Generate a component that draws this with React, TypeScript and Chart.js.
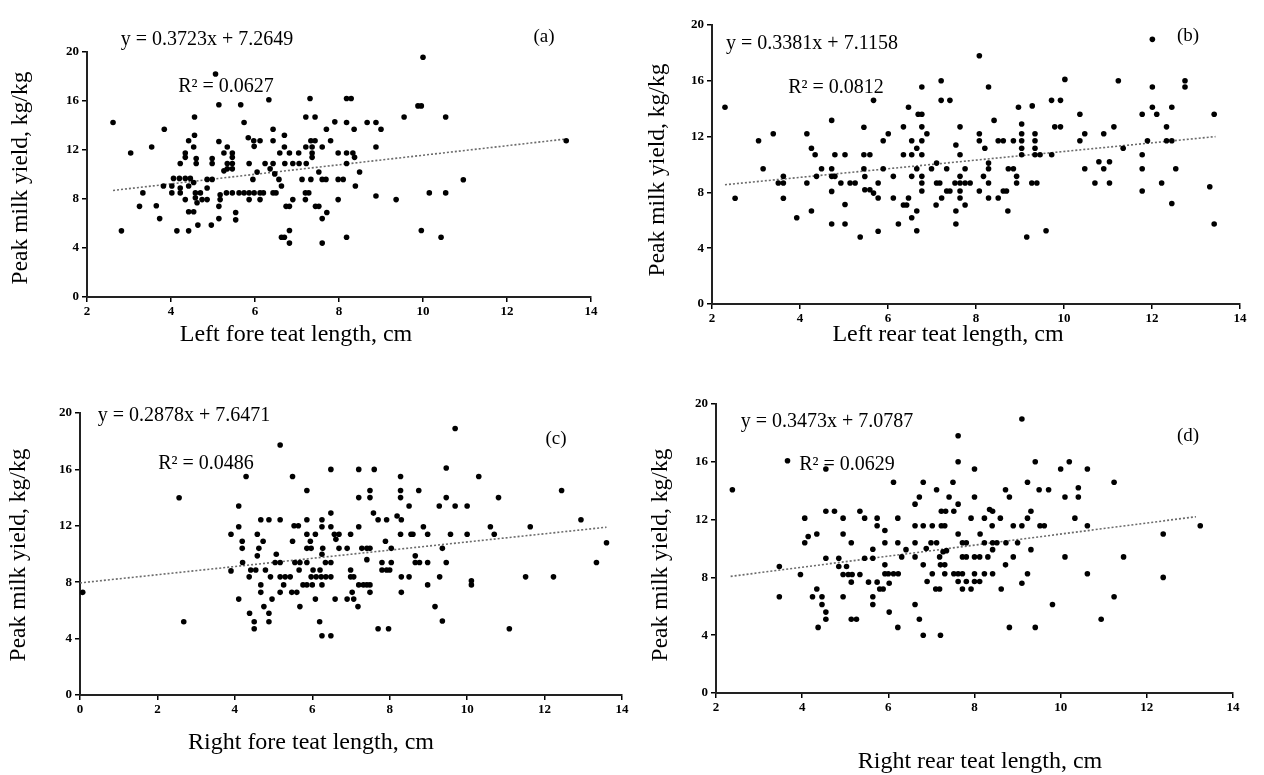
import React, { useEffect, useRef } from "react";
import { Chart, registerables } from "chart.js";
Chart.register(...registerables);

// ---------- Panel (a): Left fore teat length ----------
const aX = [5.06,5.14,5.66,2.62,4.56,5.74,3.84,4.56,4.42,5.14,5.84,5.98,3.54,4.54,5.34,3.04,4.34,4.34,5.26,5.46,5.46,5.46,5.46,4.6,4.6,4.98,4.98,4.22,5.34,5.34,5.86,5.26,4.06,4.2,4.34,4.46,4.54,4.86,4.98,3.82,3.33,4.02,4.02,4.22,4.22,4.42,4.58,4.7,4.58,4.62,4.74,4.86,4.86,5.17,5.17,5.32,5.46,5.62,5.74,5.86,5.98,5.86,4.34,5.14,3.25,3.65,4.42,4.54,5.54,5.54,3.73,5.14,2.82,4.14,4.42,4.64,4.96,
  10.0,6.33,7.31,8.18,8.29,9.88,9.96,7.21,7.43,9.55,6.43,7.9,7.7,8.18,8.36,8.67,8.88,9.0,6.7,5.97,6.12,6.43,7.33,7.43,7.8,6.7,6.59,6.82,7.04,7.21,7.36,7.6,7.36,7.36,8.88,7.98,8.18,8.33,8.37,6.05,6.24,6.43,6.71,6.9,7.05,7.22,6.36,6.47,6.57,5.95,6.63,7.12,7.33,7.52,7.6,7.69,7.98,8.1,8.18,8.49,8.39,6.12,6.2,6.12,6.43,6.5,6.74,6.82,6.9,7.2,7.28,7.2,7.44,7.52,7.71,7.6,7.98,8.88,9.36,6.63,6.7,6.82,6.82,7.6,8.18,9.96,
  10.54,13.41,10.96,10.15,10.54,10.43];
const aY = [18.2,15.7,15.7,14.25,14.7,14.25,13.7,13.2,12.75,12.7,13.0,12.3,12.25,12.25,12.25,11.75,11.75,11.4,11.75,11.75,11.4,10.9,10.46,11.3,10.9,11.3,10.9,10.9,10.9,10.46,10.9,10.3,9.68,9.68,9.68,9.68,9.35,9.6,9.6,9.06,8.5,9.06,8.5,8.9,8.5,9.06,8.5,8.5,8.1,7.7,7.95,8.9,7.95,8.35,7.95,8.5,8.5,8.5,8.5,8.5,8.5,7.95,7.95,7.4,7.4,7.45,6.96,6.96,6.9,6.3,6.4,6.4,5.4,5.4,5.4,5.87,5.87,
  19.57,16.1,16.2,16.2,16.2,15.6,15.6,14.7,14.7,14.7,13.7,14.3,13.7,14.25,13.7,14.25,14.25,13.7,13.2,12.75,12.75,12.75,12.75,12.75,12.75,12.25,11.75,11.75,11.75,12.25,12.25,12.25,11.75,11.4,12.25,11.75,11.75,11.75,11.4,10.2,10.9,10.9,10.9,10.9,10.9,10.9,10.46,10.05,9.6,9.6,9.06,9.6,9.6,10.2,9.6,9.6,9.6,9.6,10.9,10.2,9.06,8.5,8.5,7.95,8.5,8.5,7.4,7.4,7.95,8.5,8.5,7.95,7.4,7.4,6.9,6.4,7.95,8.25,7.95,4.88,4.88,5.43,4.4,4.4,4.88,5.43,
  14.7,12.75,9.57,8.5,8.5,4.88];
const aTrendX = [2.62, 13.41];
const aTrendY = [8.7, 12.9];

// ---------- Panel (b): Left rear teat length ----------
const bX = [2.295,2.525,3.058,3.392,4.156,3.162,3.622,3.507,3.622,3.622,3.926,4.156,4.26,4.72,4.26,4.344,4.49,4.375,4.72,4.72,4.793,4.793,5.023,4.72,4.929,5.138,5.253,5.023,4.72,5.023,5.368,5.671,5.452,5.452,5.588,5.452,5.473,5.473,5.588,5.671,5.776,5.776,5.776,
  8.076,6.769,7.208,8.285,7.208,7.407,6.466,6.686,6.769,8.411,8.965,9.278,9.717,6.351,6.769,7.637,9.038,9.79,6.006,5.891,6.539,6.769,6.884,6.654,6.769,7.543,8.076,8.076,8.201,8.505,8.62,8.85,9.038,9.038,9.341,9.341,9.341,9.341,9.456,9.038,9.038,6.351,6.539,7.637,5.891,6.654,6.989,7.104,7.334,6.769,6.769,6.769,7.752,7.637,7.522,7.637,7.752,7.867,8.285,8.285,8.17,8.285,8.735,8.85,8.923,8.923,9.268,9.383,6.121,6.539,6.121,7.104,7.177,7.334,7.407,7.637,7.637,7.752,8.076,8.285,8.505,8.62,8.693,7.219,7.093,6.466,6.351,6.424,6.654,6.539,7.543,8.724,6.236,6.654,7.543,9.153,9.592,
  12.008,10.02,11.235,12.008,12.75,12.75,9.92,10.361,11.777,12.108,12.008,12.45,13.413,9.92,10.472,10.903,11.134,10.361,12.33,11.897,12.33,12.45,11.345,9.72,11.777,10.793,11.034,10.903,10.472,10.703,11.034,11.777,12.54,12.219,11.777,13.313,12.45,13.413];
const bY = [14.1,7.58,11.7,12.2,12.2,9.7,9.15,8.67,8.67,7.58,6.18,8.67,6.67,13.16,11.17,10.7,9.7,9.15,9.7,9.15,9.15,10.7,10.7,8.07,8.67,8.67,8.67,7.13,5.73,5.73,4.8,14.6,12.67,9.7,10.7,10.7,9.14,8.19,8.19,7.95,8.67,7.6,5.22,
  17.8,15.56,16.0,15.56,14.6,14.6,14.1,13.6,13.6,13.16,14.1,14.2,14.6,12.7,12.7,12.7,12.9,12.7,12.2,11.7,11.7,11.7,12.2,11.17,10.7,11.4,12.2,11.7,11.17,11.7,11.7,11.7,12.2,11.7,12.2,11.7,11.17,10.7,10.7,11.17,10.7,10.7,10.7,10.7,9.7,9.7,9.7,10.1,9.7,9.15,8.67,8.1,9.7,9.15,8.67,8.67,8.67,8.67,10.1,9.7,9.15,8.67,9.7,9.7,9.15,8.67,8.67,8.67,9.15,9.15,7.6,8.67,8.67,8.1,8.1,8.1,7.6,7.1,8.1,7.6,7.6,8.1,8.1,7.6,7.1,7.6,7.1,7.1,6.67,6.18,6.67,6.67,5.73,5.25,5.73,4.8,5.25,
  18.97,16.1,16.0,15.56,16.0,15.56,14.6,13.6,13.6,13.6,14.1,14.1,13.6,12.7,12.2,12.2,12.7,11.7,12.7,11.7,11.7,11.7,11.17,10.7,10.7,10.2,10.2,9.7,9.7,8.67,8.67,9.7,9.7,8.67,8.1,8.4,7.2,5.73];
const bTrendX = [2.295, 13.443];
const bTrendY = [8.55, 12.0];

// ---------- Panel (c): Right fore teat length ----------
const cX = [0.07,2.56,2.68,4.29,4.1,4.1,3.9,4.19,4.19,4.2,3.9,4.1,
  5.17,5.49,6.48,7.2,7.6,8.28,5.86,7.2,7.49,7.49,8.28,8.28,8.5,6.48,4.67,4.88,5.17,5.86,6.25,6.25,5.53,5.64,7.58,7.7,7.92,8.19,8.3,6.48,6.57,6.69,6.61,6.99,7.2,5.86,6.08,4.58,8.28,8.55,4.73,4.62,4.58,5.49,5.95,5.86,5.97,6.27,6.69,6.9,7.28,7.41,7.49,7.41,7.89,8.04,5.07,7.8,8.04,6.25,6.34,6.48,5.04,5.17,5.55,5.68,5.86,4.41,4.37,4.54,4.79,5.66,6.02,6.2,6.99,6.99,7.07,4.92,5.17,5.3,5.43,5.97,6.1,6.23,6.35,6.48,7.8,7.92,8.0,8.3,8.5,7.2,7.32,7.41,7.49,7.49,4.67,4.67,5.26,5.47,5.6,5.86,5.76,6.0,6.25,5.17,4.96,6.08,6.59,6.9,7.07,7.03,7.18,5.68,8.3,4.75,4.88,4.88,4.38,4.5,4.5,6.19,6.25,6.48,7.7,7.97,
  9.69,9.46,10.3,8.75,9.46,12.44,9.28,9.69,10.0,10.81,8.87,10.6,10.7,11.63,12.94,8.6,8.98,9.57,10.0,9.36,8.66,8.66,8.77,8.98,9.46,13.34,8.98,9.29,10.11,10.11,11.51,12.23,9.17,9.36,11.09,13.6];
const cY = [7.28,13.99,5.2,15.5,13.4,11.93,11.4,10.9,10.4,9.4,8.8,6.8,
  17.73,15.5,16.0,16.0,16.0,15.5,14.5,14.0,14.5,14.0,14.5,14.0,13.4,12.9,12.43,12.43,12.43,12.43,12.43,11.93,12.0,12.0,12.9,12.43,12.43,12.7,12.43,11.93,11.4,11.4,11.04,11.4,11.93,11.4,11.4,11.4,11.4,11.4,10.9,10.4,9.87,10.9,10.9,10.4,10.4,10.4,10.4,10.4,10.4,10.4,10.4,9.6,10.9,10.4,9.98,9.4,9.4,9.98,9.4,9.4,9.4,9.4,9.4,9.4,9.4,8.86,8.38,8.86,8.86,8.86,8.86,8.86,8.86,8.38,8.38,8.38,8.38,8.38,8.38,8.38,8.38,8.38,8.38,8.38,8.86,8.86,8.86,8.38,8.38,7.81,7.81,7.81,7.81,7.28,7.81,7.28,7.81,7.28,7.28,7.81,7.81,7.81,7.81,7.28,6.8,6.8,6.8,6.8,6.8,7.28,6.27,6.27,7.28,6.27,5.8,5.2,5.8,5.2,4.7,5.2,4.2,4.2,4.7,4.7,
  18.9,16.1,15.5,14.5,14.0,14.5,13.4,13.4,13.4,14.0,11.93,11.93,11.4,11.93,12.43,11.4,11.4,11.4,11.4,10.4,9.87,9.4,9.4,9.4,9.4,9.4,7.81,8.38,8.1,7.81,8.38,8.38,6.27,5.25,4.7,10.8];
const cTrendX = [0, 13.6];
const cTrendY = [7.95, 11.9];

// ---------- Panel (d): Right rear teat length ----------
const dX = [2.38,3.66,4.55,4.06,4.14,4.06,4.34,4.55,4.75,4.95,5.34,5.45,5.74,5.74,4.95,5.14,3.47,3.96,4.55,4.85,4.85,4.95,5.03,5.07,5.16,5.34,5.14,5.45,5.64,5.64,3.47,4.24,4.46,4.46,4.34,4.55,4.55,4.37,4.95,5.14,5.26,5.54,5.74,5.64,5.64,
  9.1,7.62,7.62,8.0,9.41,6.12,6.81,7.5,7.12,6.72,6.62,7.41,7.62,8.0,7.23,7.33,7.52,8.72,8.81,9.23,9.5,9.72,9.31,9.23,8.35,8.42,8.23,7.92,8.6,6.22,5.92,6.62,6.81,7.02,7.23,7.31,7.62,8.13,8.41,8.9,9.1,9.52,9.62,5.92,6.22,6.62,6.99,7.12,7.72,7.81,8.23,8.42,8.52,8.73,9.0,6.41,6.31,6.62,6.88,7.27,7.19,7.35,7.72,7.81,8.0,8.12,8.31,8.42,8.9,9.31,6.81,7.21,7.31,8.72,5.92,6.0,6.12,6.23,5.92,7.02,7.31,7.52,7.62,7.72,8.0,8.23,8.42,9.23,5.8,5.88,6.02,6.9,7.62,7.72,7.81,7.92,8.0,8.12,7.1,7.19,8.62,9.1,6.02,6.22,6.62,6.72,6.81,7.21,8.81,9.41,9.81,
  10.2,10.0,10.62,11.24,10.41,10.1,10.41,10.33,10.62,12.38,13.24,10.1,11.46,10.62,12.38,11.24,10.94];
const dY = [14.07,16.07,15.5,12.1,10.83,10.4,11.0,12.58,12.58,12.1,12.58,12.1,12.1,11.57,11.0,10.4,8.75,8.2,9.33,9.33,8.75,8.2,8.75,8.2,8.2,8.2,7.67,9.33,9.33,9.95,6.66,6.66,6.66,6.12,7.2,5.6,5.1,4.54,6.66,5.1,5.1,7.67,7.67,6.66,6.12,
  18.96,17.8,16.0,15.5,16.0,14.58,14.58,14.58,14.07,13.56,13.07,13.56,13.07,13.56,12.58,12.58,12.58,14.07,13.56,14.58,14.07,14.07,12.58,12.1,12.7,12.58,12.1,12.1,12.1,12.1,11.25,11.57,11.57,11.57,11.57,11.57,11.0,11.0,11.57,11.57,11.57,11.57,11.57,10.4,10.4,10.4,10.4,10.4,10.4,10.4,10.4,10.4,10.4,10.4,10.4,9.92,9.42,9.42,10.0,9.77,9.42,9.85,9.42,9.42,9.42,9.42,9.42,9.92,9.42,9.92,8.87,8.87,8.87,8.87,8.87,8.25,8.25,8.25,8.25,8.25,8.25,8.25,8.25,8.25,8.25,8.25,8.25,8.25,7.2,7.2,7.6,7.72,7.72,7.2,7.72,7.2,7.72,7.72,7.2,7.2,7.2,7.6,5.6,4.54,6.12,5.1,4.0,4.0,4.54,4.54,6.12,
  16.0,15.5,15.5,14.58,14.2,13.56,13.56,12.1,11.57,11.0,11.57,9.42,9.42,8.25,8.0,6.66,5.1];
const dTrendX = [2.34, 13.14];
const dTrendY = [8.07, 12.2];

const yTicks = [0, 4, 8, 12, 16, 20];
const xTicksA = [2, 4, 6, 8, 10, 12, 14];
const xTicksC = [0, 2, 4, 6, 8, 10, 12, 14];

const SERIF = "'Liberation Serif', 'Times New Roman', 'DejaVu Serif', serif";

type PanelCfg = {
  xs: number[]; ys: number[]; tx: number[]; ty: number[];
  xTicks: number[];
  canvas: { left: number; top: number; width: number; height: number };
  W: number; H: number; padTop: number; padRight: number;
};

const panels: PanelCfg[] = [
  { xs: aX, ys: aY, tx: aTrendX, ty: aTrendY, xTicks: xTicksA,
    canvas: { left: 0, top: 40, width: 611, height: 310 }, W: 87, H: 53, padTop: 12, padRight: 20 },
  { xs: bX, ys: bY, tx: bTrendX, ty: bTrendY, xTicks: xTicksA,
    canvas: { left: 640, top: 13, width: 624, height: 337 }, W: 72, H: 46, padTop: 12, padRight: 24 },
  { xs: cX, ys: cY, tx: cTrendX, ty: cTrendY, xTicks: xTicksC,
    canvas: { left: 0, top: 401, width: 642, height: 357 }, W: 80, H: 63, padTop: 12, padRight: 20 },
  { xs: dX, ys: dY, tx: dTrendX, ty: dTrendY, xTicks: xTicksA,
    canvas: { left: 640, top: 392, width: 624, height: 383 }, W: 76, H: 82, padTop: 12, padRight: 31 },
];

function ScatterPanel({ cfg }: { cfg: PanelCfg }) {
  const ref = useRef<HTMLCanvasElement | null>(null);
  useEffect(() => {
    if (!ref.current) return;
    const pts = cfg.xs.map((x, i) => ({ x, y: cfg.ys[i] }));
    const trend = cfg.tx.map((x, i) => ({ x, y: cfg.ty[i] }));
    const tickFont = { family: SERIF, size: 13, weight: "bold" as const };
    const xMin = cfg.xTicks[0];
    const xMax = cfg.xTicks[cfg.xTicks.length - 1];
    const chart = new Chart(ref.current, {
      type: "scatter",
      data: {
        datasets: [
          { data: trend, showLine: true, borderColor: "#6b6b6b", borderWidth: 1.6, borderDash: [2, 2],
            pointRadius: 0, fill: false, order: 2 } as any,
          { data: pts, backgroundColor: "#000", borderColor: "#000", pointRadius: 2.8,
            pointBorderWidth: 0, order: 1 } as any,
        ],
      },
      options: {
        animation: false,
        responsive: false,
        maintainAspectRatio: false,
        layout: { padding: { top: cfg.padTop, right: cfg.padRight, left: 0, bottom: 0 } },
        plugins: { legend: { display: false }, tooltip: { enabled: false } },
        scales: {
          x: {
            type: "linear", min: xMin, max: xMax,
            afterBuildTicks: (s: any) => { s.ticks = cfg.xTicks.map((v) => ({ value: v })); },
            afterFit: (s: any) => { s.height = cfg.H; },
            ticks: { color: "#000", font: tickFont, padding: 2, maxRotation: 0 },
            grid: { display: true, drawOnChartArea: false, drawTicks: true, tickLength: 5, color: "#000", lineWidth: 1.5 },
            border: { display: true, color: "#222", width: 2 },
          },
          y: {
            type: "linear", min: 0, max: 20,
            afterBuildTicks: (s: any) => { s.ticks = yTicks.map((v) => ({ value: v })); },
            afterFit: (s: any) => { s.width = cfg.W; },
            ticks: { color: "#000", font: tickFont, padding: 3 },
            grid: { display: true, drawOnChartArea: false, drawTicks: true, tickLength: 5, color: "#000", lineWidth: 1.5 },
            border: { display: true, color: "#222", width: 2 },
          },
        },
      } as any,
    });
    return () => chart.destroy();
  }, [cfg]);
  return (
    <canvas
      ref={ref}
      width={cfg.canvas.width}
      height={cfg.canvas.height}
      style={{ position: "absolute", left: cfg.canvas.left, top: cfg.canvas.top,
        width: cfg.canvas.width, height: cfg.canvas.height }}
    />
  );
}

type TextItem = { text: string; x: number; y: number; size: number; rotate?: boolean };

const texts: TextItem[] = [
  { text: "y = 0.3723x + 7.2649", x: 207, y: 38, size: 20 },
  { text: "R\u00b2 = 0.0627", x: 226, y: 85, size: 20 },
  { text: "(a)", x: 544, y: 35, size: 19 },
  { text: "Left fore teat length, cm", x: 296, y: 333, size: 24 },
  { text: "Peak milk yield, kg/kg", x: 20, y: 178, size: 23.5, rotate: true },

  { text: "y = 0.3381x + 7.1158", x: 812, y: 42, size: 20 },
  { text: "R\u00b2 = 0.0812", x: 836, y: 86, size: 20 },
  { text: "(b)", x: 1188, y: 34, size: 19 },
  { text: "Left rear teat length, cm", x: 948, y: 333, size: 24 },
  { text: "Peak milk yield, kg/kg", x: 657, y: 170, size: 23.5, rotate: true },

  { text: "y = 0.2878x + 7.6471", x: 184, y: 414, size: 20 },
  { text: "R\u00b2 = 0.0486", x: 206, y: 462, size: 20 },
  { text: "(c)", x: 556, y: 437, size: 19 },
  { text: "Right fore teat length, cm", x: 311, y: 741, size: 24 },
  { text: "Peak milk yield, kg/kg", x: 18, y: 555, size: 23.5, rotate: true },

  { text: "y = 0.3473x + 7.0787", x: 827, y: 420, size: 20 },
  { text: "R\u00b2 = 0.0629", x: 847, y: 463, size: 20 },
  { text: "(d)", x: 1188, y: 434, size: 19 },
  { text: "Right rear teat length, cm", x: 980, y: 760, size: 24 },
  { text: "Peak milk yield, kg/kg", x: 660, y: 555, size: 23.5, rotate: true },
];

export default function App() {
  return (
    <div style={{ position: "absolute", left: 0, top: 0, width: 1264, height: 775, background: "#fff", overflow: "hidden" }}>
      {panels.map((p, i) => <ScatterPanel key={i} cfg={p} />)}
      {texts.map((t, i) => (
        <div
          key={"t" + i}
          style={{
            position: "absolute", left: t.x, top: t.y,
            transform: `translate(-50%, -50%)${t.rotate ? " rotate(-90deg)" : ""}`,
            fontFamily: SERIF, fontSize: t.size, lineHeight: 1, whiteSpace: "nowrap", color: "#000",
          }}
        >
          {t.text}
        </div>
      ))}
    </div>
  );
}
